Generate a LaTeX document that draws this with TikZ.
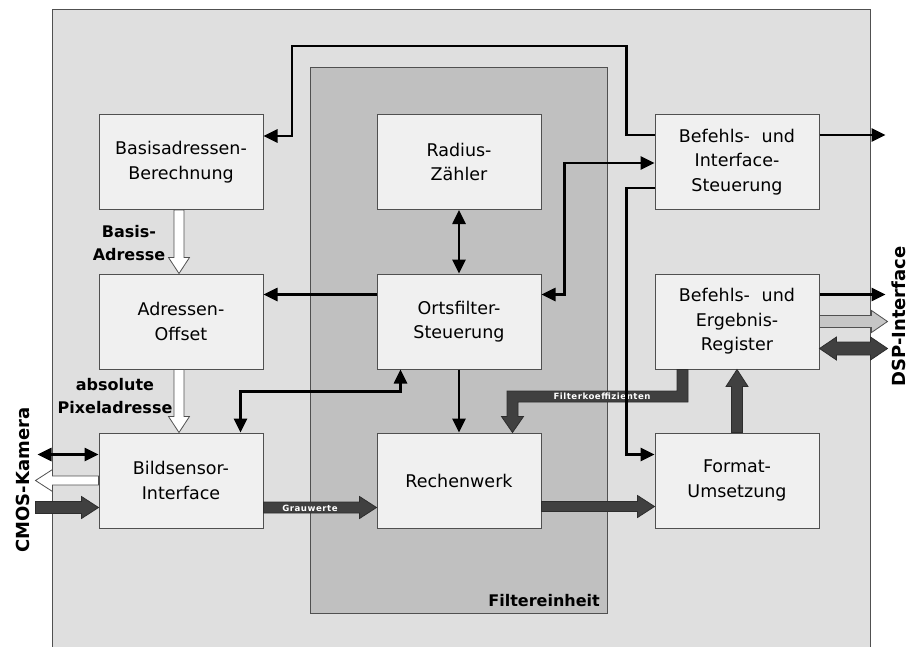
\documentclass[tikz,border=0pt]{standalone}
\usepackage{fontspec}
\setmainfont{DejaVu Sans}
\usetikzlibrary{arrows.meta,calc}

\definecolor{panel}{HTML}{DFDFDF}
\definecolor{unit}{HTML}{C0C0C0}
\definecolor{boxfill}{HTML}{F0F0F0}
\definecolor{edge}{HTML}{505050}
\definecolor{darkbus}{HTML}{404040}
\definecolor{lightbus}{HTML}{C6C6C6}

\tikzset{
  blk/.style={draw=edge, line width=1pt, fill=boxfill, minimum width=164pt,
    minimum height=95pt, align=center, inner sep=0pt,
    font=\fontsize{17.5}{24.5}\selectfont},
  conn/.style={line width=2.6pt, line join=miter},
  whitebus/.style={fill=white, draw=edge, line width=0.8pt},
  lightbusst/.style={fill=lightbus, draw=edge, line width=0.8pt},
  darkbusst/.style={fill=darkbus, draw=darkbus!70!black, line width=0.8pt},
  boldlabel/.style={font=\bfseries\fontsize{16}{23}\selectfont, align=center, inner sep=0pt},
  sidelabel/.style={font=\bfseries\fontsize{18}{18}\selectfont, rotate=90, inner sep=0pt},
  buslabel/.style={text=white, inner sep=0pt,
    font=\bfseries\fontsize{8.6}{9}\selectfont\addfontfeatures{LetterSpace=6}},
  >={Triangle[width=13pt,length=14pt]}
}

% horizontal/vertical block arrow: #1 style, #2 tail, #3 tip,
% #4 half shaft, #5 half head, #6 head length
\newcommand\hbus[6]{%
  \coordinate (hbk) at ($(#3)!#6!(#2)$);
  \path[#1] ($(#2)+(0,#4)$) -- ($(hbk)+(0,#4)$) -- ($(hbk)+(0,#5)$) -- (#3)
    -- ($(hbk)+(0,-#5)$) -- ($(hbk)+(0,-#4)$) -- ($(#2)+(0,-#4)$) -- cycle;}
\newcommand\vbus[6]{%
  \coordinate (hbk) at ($(#3)!#6!(#2)$);
  \path[#1] ($(#2)+(#4,0)$) -- ($(hbk)+(#4,0)$) -- ($(hbk)+(#5,0)$) -- (#3)
    -- ($(hbk)+(-#5,0)$) -- ($(hbk)+(-#4,0)$) -- ($(#2)+(-#4,0)$) -- cycle;}
% horizontal block arrow with a head at both ends
\newcommand\hdbus[6]{%
  \coordinate (hka) at ($(#2)!#6!(#3)$);
  \coordinate (hkb) at ($(#3)!#6!(#2)$);
  \path[#1] (#2) -- ($(hka)+(0,#5)$) -- ($(hka)+(0,#4)$) -- ($(hkb)+(0,#4)$)
    -- ($(hkb)+(0,#5)$) -- (#3) -- ($(hkb)+(0,-#5)$) -- ($(hkb)+(0,-#4)$)
    -- ($(hka)+(0,-#4)$) -- ($(hka)+(0,-#5)$) -- cycle;}

\begin{document}
\begin{tikzpicture}[x=1pt, y=-1pt]
  \useasboundingbox (0,0) rectangle (910,646);
  \clip (0,0) rectangle (910,646);
  \fill[white] (0,0) rectangle (910,646);

  % chip outline and filter unit
  \filldraw[fill=panel, draw=edge, line width=1pt] (52,9) rectangle (870,680);
  \filldraw[fill=unit, draw=edge, line width=1pt] (310,67) rectangle (607,613);
  \node[boldlabel, anchor=base east] (unitname) at (600,606) {Filtereinheit};

  % function blocks
  \node[blk] (basis)  at (181,162)   {Basisadressen-\\Berechnung};
  \node[blk] (offs)   at (181,321.5) {Adressen-\\Offset};
  \node[blk] (bild)   at (181,480.5) {Bildsensor-\\Interface};
  \node[blk] (radius) at (459,162)   {Radius-\\Zähler};
  \node[blk] (orts)   at (459,321.5) {Ortsfilter-\\Steuerung};
  \node[blk] (rechen) at (459,480.5) {Rechenwerk};
  \node[blk] (bef)    at (737,162)   {Befehls-\hspace{0.35em} und\\Interface-\\Steuerung};
  \node[blk] (erg)    at (737,321.5) {Befehls-\hspace{0.35em} und\\Ergebnis-\\Register};
  \node[blk] (fmt)    at (737,480.5) {Format-\\Umsetzung};

  % outer interface labels
  \node[sidelabel] (cmos) at (23,480) {CMOS-Kamera};
  \node[sidelabel] (dsp)  at (899,316.5) {DSP-Interface};

  % address path (white buses)
  \vbus{whitebus}{[xshift=-2pt]basis.south}{[xshift=-2pt]offs.north}{5}{10.5}{16pt}
  \vbus{whitebus}{[xshift=-2pt]offs.south}{[xshift=-2pt]bild.north}{5}{10.5}{16pt}
  \node[boldlabel] (lbasis) at (129,243) {Basis-\\Adresse};
  \node[boldlabel] (lpixel) at (115,396) {absolute\\Pixeladresse};

  % camera side
  \coordinate (camB) at ($(bild.north west)+(-61,22)$);
  \coordinate (camW) at ($(bild.north west)+(-63,48)$);
  \coordinate (camD) at ($(bild.north west)+(-63,75)$);
  \draw[conn,<->] (camB) -- ([yshift=-22pt]bild.north west);
  \hbus{whitebus}{[yshift=-48pt]bild.north west}{camW}{4.5}{11}{17pt}
  \hbus{darkbusst}{camD}{[yshift=-75pt]bild.north west}{6}{11}{17pt}

  % data path
  \hbus{darkbusst}{[yshift=-75pt]bild.north east}{[yshift=-75pt]rechen.north west}{5.5}{11}{17pt}
  \node[buslabel] (lgrau) at (310,508) {Grauwerte};
  \hbus{darkbusst}{[yshift=-74pt]rechen.north east}{[yshift=-74pt]fmt.north west}{5}{11}{17pt}
  \vbus{darkbusst}{fmt.north}{erg.south}{5.5}{11}{17pt}

  % filter coefficients from the register block to the arithmetic unit
  \coordinate (fkA) at ([xshift=28pt]erg.south west);
  \coordinate (fkB) at ([xshift=-29pt]rechen.north east);
  \path[darkbusst] let \p1=(fkA), \p2=(fkB) in
    (\x1+5.5pt,\y1) -- (\x1+5.5pt,\y1-32.5pt) -- (\x2+5.5pt,\y1-32.5pt)
    -- (\x2+5.5pt,\y2+16pt) -- (\x2+11pt,\y2+16pt) -- (\x2,\y2)
    -- (\x2-11pt,\y2+16pt) -- (\x2-5.5pt,\y2+16pt) -- (\x2-5.5pt,\y1-21.5pt)
    -- (\x1-5.5pt,\y1-21.5pt) -- (\x1-5.5pt,\y1) -- cycle;
  \node[buslabel] (lfilter) at (602,396) {Filterkoeffizienten};

  % DSP side
  \coordinate (dspL) at ($(erg.east)+(68,0)$);
  \coordinate (dspD) at ($(erg.south east)+(68,-21)$);
  \hbus{lightbusst}{erg.east}{dspL}{6}{11}{16pt}
  \hdbus{darkbusst}{[yshift=21pt]erg.south east}{dspD}{6.5}{11.5}{17pt}

  % control connections
  \coordinate (loopTL) at (292,46);
  \draw[conn,->] ([yshift=-21pt]bef.north west) -- ++(-28,0) |- (loopTL)
    |- ([yshift=-22pt]basis.north east);
  \draw[conn,->] ([yshift=-21pt]bef.north east) -- ++(66,0);
  \draw[conn,->] ([yshift=-21pt]erg.north east) -- ++(66,0);
  \draw[conn,<->] ([yshift=-21pt]orts.north east) -- ++(23,0)
    |- ([yshift=-49pt]bef.north west);
  \draw[conn,->] ([yshift=-74pt]bef.north west) -- ++(-28,0)
    |- ([yshift=-22pt]fmt.north west);
  \draw[conn,<->] (radius.south) -- (orts.north);
  \draw[conn,->] ([yshift=-21pt]orts.north west) -- ([yshift=-21pt]offs.north east);
  \draw[conn,->] (orts.south) -- (rechen.north);
  \draw[conn,<->] ([xshift=24pt]orts.south west) -- ++(0,22)
    -| ([xshift=142pt]bild.north west);
\end{tikzpicture}
\end{document}
